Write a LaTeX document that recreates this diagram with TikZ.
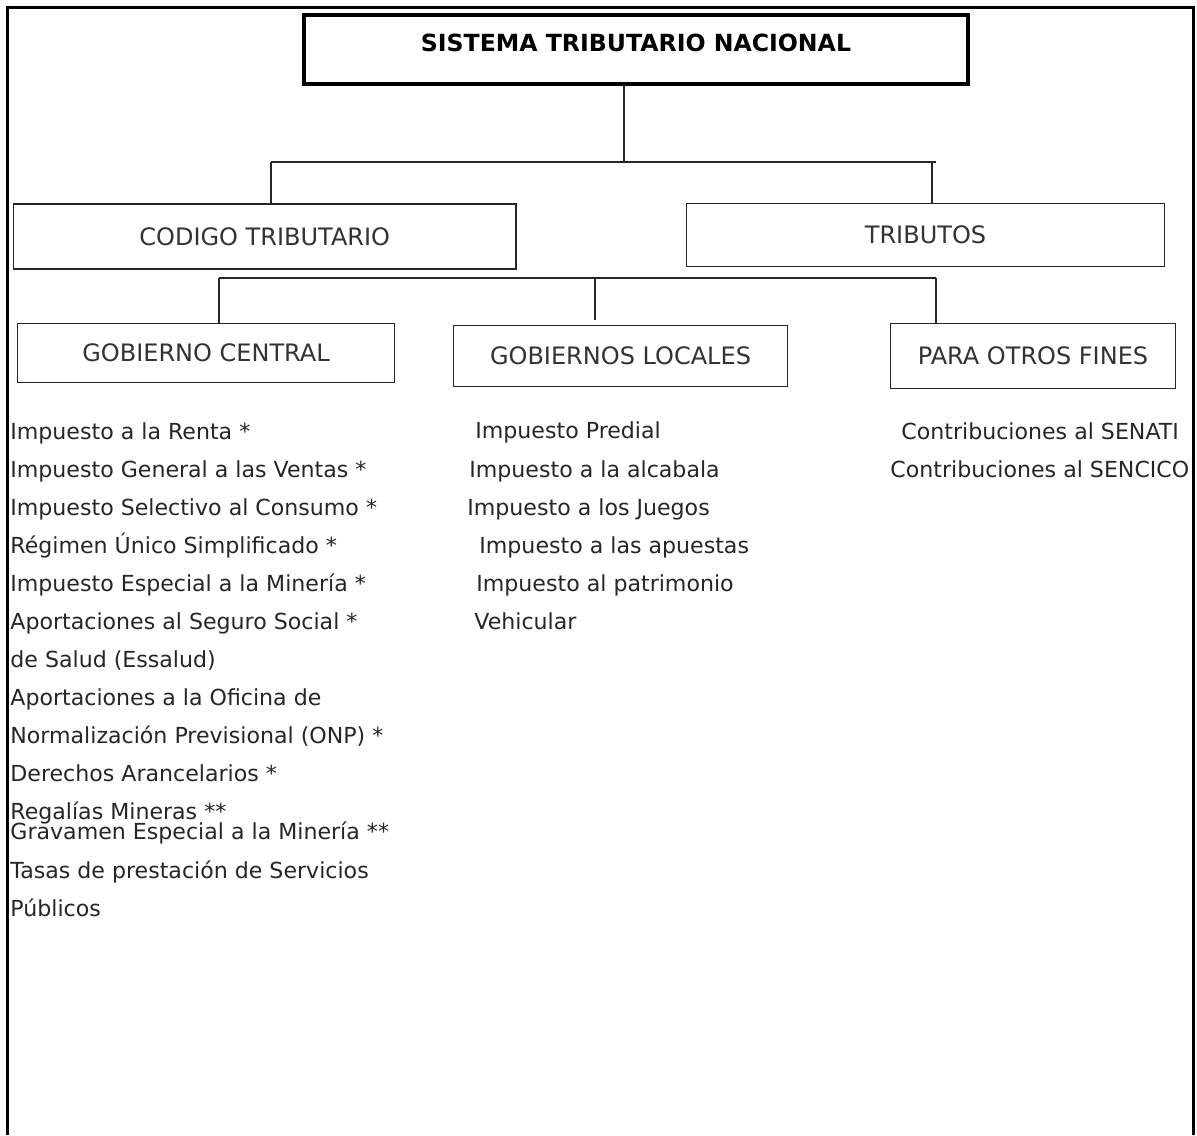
\documentclass[tikz,border=0pt]{standalone}
\usepackage{fontspec}
\setmainfont{DejaVu Sans}
\begin{document}
\begin{tikzpicture}[x=0.5pt,y=-0.5pt,
  box/.style={draw=black!85, line width=0.8pt, inner sep=0pt, font=\fontsize{12}{14}\selectfont, text=black!80},
  conn/.style={draw=black!85, line width=0.8pt},
  item/.style={anchor=base west, inner sep=0pt, font=\fontsize{11.05}{13}\selectfont, text=black!85}]
\fill[white] (0,0) rectangle (1197,1135);
\useasboundingbox (0,0) rectangle (1197,1135);
\draw[line width=1.7pt] (7.5,1135) -- (7.5,7.5) -- (1193.5,7.5) -- (1193.5,1135);

% boxes
\node[box, line width=1.7pt, draw=black, text=black, font=\bfseries\fontsize{11.8}{14}\selectfont,
      minimum width=332pt, minimum height=34.5pt, text depth=7pt] (title) at (636,49.5) {SISTEMA TRIBUTARIO NACIONAL};
\node[box, minimum width=251.25pt, minimum height=32.5pt] (codigo) at (264.75,236.5) {CODIGO TRIBUTARIO};
\node[box, minimum width=239pt, minimum height=31.5pt] (tributos) at (925.5,235) {TRIBUTOS};
\node[box, minimum width=188.5pt, minimum height=29.5pt] (gobc) at (206,353) {GOBIERNO CENTRAL};
\node[box, minimum width=167pt, minimum height=30.5pt] (gobl) at (620.5,356) {GOBIERNOS LOCALES};
\node[box, minimum width=142.5pt, minimum height=32.5pt] (otros) at (1033,356) {PARA OTROS FINES};

% connectors
\coordinate (j1) at (624,162);
\coordinate (b1l) at (271,162);
\coordinate (b1r) at (936,162);
\coordinate (t1) at (932,162);
\draw[conn] (title.south -| j1) -- (j1);
\draw[conn] (b1l) -- (b1r);
\draw[conn] (b1l) -- (b1l |- codigo.north);
\draw[conn] (t1) -- (t1 |- tributos.north);
\coordinate (b2l) at (219,278);
\coordinate (b2m) at (595,278);
\coordinate (b2r) at (936,278);
\draw[conn] (b2l) -- (b2r);
\draw[conn] (b2l) -- (b2l |- gobc.north);
\draw[conn, shorten >=2.5pt] (b2m) -- (b2m |- gobl.north);
\draw[conn] (b2r) -- (b2r |- otros.north);

% left column
\node[item] (l1) at (10,439) {Impuesto a la Renta *};
\node[item] (l2) at (10,477) {Impuesto General a las Ventas *};
\node[item] (l3) at (10,515) {Impuesto Selectivo al Consumo *};
\node[item] (l4) at (10,553) {Régimen Único Simplificado *};
\node[item] (l5) at (10,591) {Impuesto Especial a la Minería *};
\node[item] (l6) at (10,629) {Aportaciones al Seguro Social *};
\node[item] (l7) at (10,667) {de Salud (Essalud)};
\node[item] (l8) at (10,705) {Aportaciones a la Oficina de};
\node[item] (l9) at (10,743) {Normalización Previsional (ONP) *};
\node[item] (l10) at (10,781) {Derechos Arancelarios *};
\node[item] (l11) at (10,819) {Regalías Mineras **};
\node[item] (l12) at (10,839) {Gravamen Especial a la Minería **};
\node[item] (l13) at (10,878) {Tasas de prestación de Servicios};
\node[item] (l14) at (10,916) {Públicos};

% middle column
\node[item] (m1) at (475,438) {Impuesto Predial};
\node[item] (m2) at (469,477) {Impuesto a la alcabala};
\node[item] (m3) at (467,515) {Impuesto a los Juegos};
\node[item] (m4) at (479,553) {Impuesto a las apuestas};
\node[item] (m5) at (476,591) {Impuesto al patrimonio};
\node[item] (m6) at (474,629) {Vehicular};

% right column
\node[item] (r1) at (901,439) {Contribuciones al SENATI};
\node[item] (r2) at (890,477) {Contribuciones al SENCICO};
\end{tikzpicture}
\end{document}
